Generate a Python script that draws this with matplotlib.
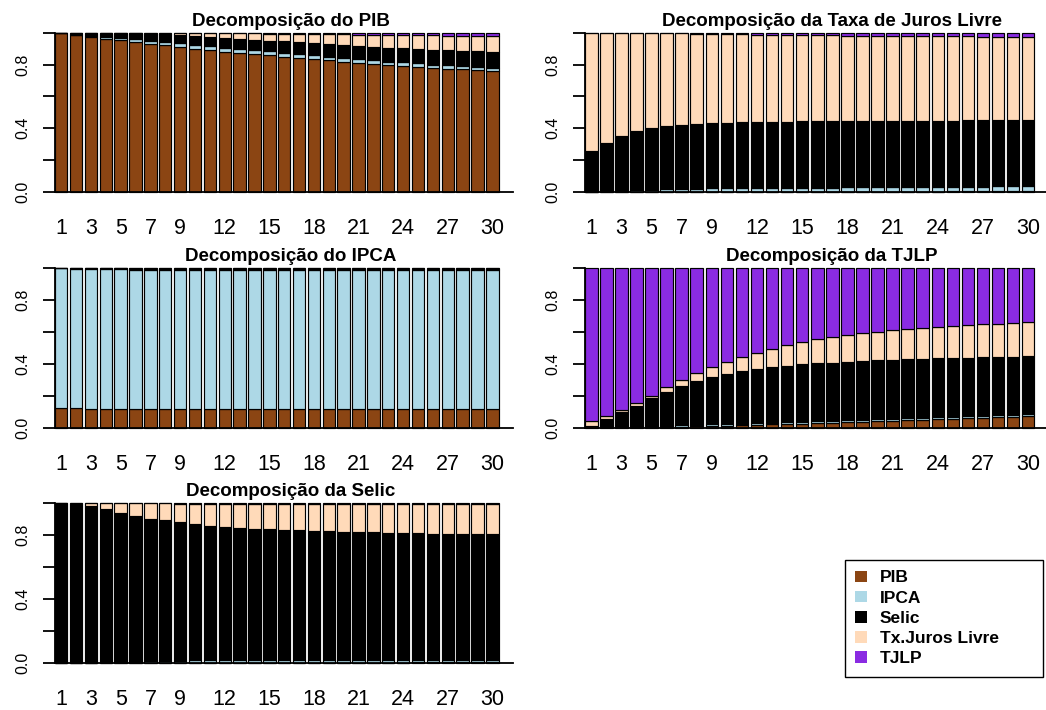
import numpy as np
import matplotlib.pyplot as plt
from matplotlib.patches import Patch

plt.rcParams['font.family'] = ['Liberation Sans', 'DejaVu Sans']

horizons = list(range(1, 31))
shown_ticks = [1, 3, 5, 7, 9, 12, 15, 18, 21, 24, 27, 30]
shocks = ['PIB', 'IPCA', 'Selic', 'Tx.Juros Livre', 'TJLP']
shock_colors = ['#8B4513', '#ADD8E6', '#000000', '#FFDAB9', '#8A2BE2']

# variance decomposition of PIB (share of each shock, horizons 1..30)
pib_pib = [1.000, 0.985, 0.975, 0.962, 0.952, 0.942, 0.932, 0.921, 0.910, 0.900,
           0.890, 0.881, 0.874, 0.866, 0.858, 0.850, 0.842, 0.834, 0.826, 0.818,
           0.811, 0.804, 0.797, 0.791, 0.785, 0.779, 0.774, 0.769, 0.764, 0.760]
pib_ipca = [0.000, 0.002, 0.005, 0.009, 0.012, 0.016, 0.019, 0.021, 0.023, 0.024,
            0.025, 0.025, 0.025, 0.025, 0.025, 0.024, 0.024, 0.024, 0.023, 0.023,
            0.023, 0.023, 0.022, 0.022, 0.022, 0.021, 0.021, 0.021, 0.021, 0.021]
pib_selic = [0.000, 0.013, 0.020, 0.028, 0.034, 0.039, 0.043, 0.047, 0.050, 0.053,
             0.056, 0.059, 0.062, 0.065, 0.068, 0.071, 0.073, 0.076, 0.079, 0.082,
             0.084, 0.086, 0.088, 0.090, 0.092, 0.093, 0.095, 0.096, 0.097, 0.098]
pib_juros = [0.000, 0.000, 0.000, 0.001, 0.002, 0.002, 0.005, 0.009, 0.015, 0.020,
             0.026, 0.031, 0.034, 0.039, 0.043, 0.048, 0.053, 0.057, 0.062, 0.066,
             0.070, 0.074, 0.079, 0.082, 0.085, 0.090, 0.092, 0.095, 0.098, 0.100]
pib_tjlp = [0.000, 0.000, 0.000, 0.000, 0.000, 0.001, 0.001, 0.002, 0.002, 0.003,
            0.003, 0.004, 0.005, 0.005, 0.006, 0.007, 0.008, 0.009, 0.010, 0.011,
            0.012, 0.013, 0.014, 0.015, 0.016, 0.017, 0.018, 0.019, 0.020, 0.021]

# variance decomposition of the free interest rate
jur_pib = [0.000, 0.003, 0.002, 0.001, 0.001, 0.001, 0.001, 0.001, 0.001, 0.001,
           0.001, 0.001, 0.001, 0.001, 0.001, 0.002, 0.002, 0.002, 0.002, 0.002,
           0.003, 0.003, 0.003, 0.003, 0.004, 0.004, 0.004, 0.005, 0.005, 0.005]
jur_ipca = [0.000, 0.002, 0.006, 0.010, 0.013, 0.016, 0.018, 0.020, 0.021, 0.022,
            0.023, 0.024, 0.024, 0.025, 0.025, 0.026, 0.026, 0.027, 0.027, 0.027,
            0.028, 0.028, 0.028, 0.029, 0.029, 0.029, 0.030, 0.030, 0.030, 0.031]
jur_selic = [0.255, 0.305, 0.342, 0.369, 0.386, 0.396, 0.403, 0.407, 0.411, 0.413,
             0.414, 0.415, 0.416, 0.416, 0.417, 0.416, 0.416, 0.416, 0.416, 0.417,
             0.415, 0.416, 0.416, 0.416, 0.415, 0.416, 0.415, 0.415, 0.415, 0.415]
jur_juros = [0.745, 0.689, 0.648, 0.618, 0.597, 0.583, 0.573, 0.566, 0.560, 0.555,
             0.552, 0.548, 0.546, 0.544, 0.542, 0.540, 0.539, 0.537, 0.536, 0.534,
             0.534, 0.532, 0.531, 0.530, 0.529, 0.528, 0.527, 0.526, 0.525, 0.524]
jur_tjlp = [0.000, 0.001, 0.002, 0.002, 0.003, 0.004, 0.005, 0.006, 0.007, 0.009,
            0.010, 0.012, 0.013, 0.014, 0.015, 0.016, 0.017, 0.018, 0.019, 0.020,
            0.020, 0.021, 0.022, 0.022, 0.023, 0.023, 0.024, 0.024, 0.025, 0.025]

# variance decomposition of IPCA
ipca_pib = [0.122, 0.121, 0.119, 0.118, 0.117, 0.117, 0.116, 0.116, 0.116, 0.116,
            0.116, 0.116, 0.116, 0.116, 0.116, 0.116, 0.116, 0.117, 0.117, 0.117,
            0.117, 0.117, 0.117, 0.117, 0.117, 0.117, 0.117, 0.117, 0.117, 0.117]
ipca_ipca = [0.878, 0.877, 0.876, 0.876, 0.876, 0.874, 0.874, 0.873, 0.873, 0.873,
             0.873, 0.873, 0.873, 0.873, 0.873, 0.873, 0.873, 0.872, 0.872, 0.872,
             0.872, 0.872, 0.872, 0.872, 0.872, 0.872, 0.872, 0.872, 0.872, 0.872]
ipca_selic = [0.000, 0.002, 0.004, 0.005, 0.006, 0.007, 0.007, 0.008, 0.008, 0.008,
              0.008, 0.008, 0.008, 0.008, 0.008, 0.008, 0.008, 0.008, 0.008, 0.008,
              0.008, 0.008, 0.008, 0.008, 0.008, 0.008, 0.008, 0.008, 0.008, 0.008]
ipca_juros = [0.000, 0.000, 0.001, 0.001, 0.001, 0.001, 0.002, 0.002, 0.002, 0.002,
              0.002, 0.002, 0.002, 0.002, 0.002, 0.002, 0.002, 0.002, 0.002, 0.002,
              0.002, 0.002, 0.002, 0.002, 0.002, 0.002, 0.002, 0.002, 0.002, 0.002]
ipca_tjlp = [0.000, 0.000, 0.000, 0.000, 0.000, 0.001, 0.001, 0.001, 0.001, 0.001,
             0.001, 0.001, 0.001, 0.001, 0.001, 0.001, 0.001, 0.001, 0.001, 0.001,
             0.001, 0.001, 0.001, 0.001, 0.001, 0.001, 0.001, 0.001, 0.001, 0.001]

# variance decomposition of TJLP
tjlp_pib = [0.008, 0.004, 0.002, 0.002, 0.003, 0.004, 0.006, 0.008, 0.010, 0.012,
            0.014, 0.017, 0.019, 0.022, 0.025, 0.028, 0.031, 0.034, 0.037, 0.040,
            0.043, 0.046, 0.049, 0.052, 0.055, 0.058, 0.061, 0.064, 0.067, 0.070]
tjlp_ipca = [0.001, 0.002, 0.003, 0.004, 0.005, 0.006, 0.007, 0.008, 0.009, 0.010,
             0.010, 0.011, 0.011, 0.011, 0.012, 0.012, 0.012, 0.012, 0.012, 0.012,
             0.012, 0.012, 0.012, 0.012, 0.012, 0.012, 0.012, 0.012, 0.012, 0.012]
tjlp_selic = [0.003, 0.048, 0.091, 0.132, 0.176, 0.216, 0.247, 0.273, 0.297, 0.315,
              0.330, 0.340, 0.353, 0.356, 0.360, 0.364, 0.365, 0.368, 0.369, 0.371,
              0.370, 0.371, 0.370, 0.371, 0.370, 0.369, 0.368, 0.365, 0.365, 0.364]
tjlp_juros = [0.026, 0.021, 0.014, 0.015, 0.016, 0.027, 0.040, 0.052, 0.067, 0.073,
              0.087, 0.103, 0.113, 0.130, 0.143, 0.150, 0.159, 0.165, 0.174, 0.180,
              0.188, 0.192, 0.197, 0.199, 0.201, 0.203, 0.208, 0.212, 0.213, 0.217]
tjlp_tjlp = [0.962, 0.925, 0.890, 0.847, 0.800, 0.747, 0.700, 0.659, 0.617, 0.590,
             0.559, 0.529, 0.504, 0.481, 0.460, 0.446, 0.433, 0.421, 0.408, 0.397,
             0.387, 0.379, 0.372, 0.366, 0.362, 0.358, 0.351, 0.347, 0.343, 0.337]

# variance decomposition of Selic
sel_pib = [0.000, 0.000, 0.001, 0.001, 0.001, 0.001, 0.001, 0.001, 0.001, 0.002,
           0.002, 0.002, 0.002, 0.002, 0.002, 0.002, 0.002, 0.003, 0.003, 0.003,
           0.003, 0.003, 0.003, 0.003, 0.004, 0.004, 0.004, 0.004, 0.004, 0.004]
sel_ipca = [0.000, 0.001, 0.002, 0.004, 0.006, 0.008, 0.010, 0.012, 0.013, 0.014,
            0.015, 0.015, 0.016, 0.016, 0.016, 0.016, 0.017, 0.017, 0.017, 0.017,
            0.017, 0.017, 0.017, 0.017, 0.017, 0.017, 0.017, 0.017, 0.017, 0.017]
sel_selic = [1.000, 0.997, 0.982, 0.957, 0.933, 0.911, 0.893, 0.880, 0.866, 0.854,
             0.843, 0.833, 0.827, 0.821, 0.819, 0.817, 0.814, 0.809, 0.807, 0.803,
             0.800, 0.798, 0.796, 0.794, 0.791, 0.789, 0.789, 0.787, 0.787, 0.786]
sel_juros = [0.000, 0.002, 0.015, 0.037, 0.059, 0.079, 0.095, 0.106, 0.118, 0.128,
             0.138, 0.148, 0.153, 0.159, 0.161, 0.162, 0.164, 0.168, 0.170, 0.174,
             0.177, 0.179, 0.181, 0.183, 0.184, 0.186, 0.186, 0.188, 0.188, 0.189]
sel_tjlp = [0.000, 0.000, 0.000, 0.001, 0.001, 0.001, 0.001, 0.001, 0.002, 0.002,
            0.002, 0.002, 0.002, 0.002, 0.002, 0.003, 0.003, 0.003, 0.003, 0.003,
            0.003, 0.003, 0.003, 0.003, 0.004, 0.004, 0.004, 0.004, 0.004, 0.004]

panels = [
    ('Decomposição do PIB', [pib_pib, pib_ipca, pib_selic, pib_juros, pib_tjlp], 0, 0),
    ('Decomposição da Taxa de Juros Livre', [jur_pib, jur_ipca, jur_selic, jur_juros, jur_tjlp], 0, 1),
    ('Decomposição do IPCA', [ipca_pib, ipca_ipca, ipca_selic, ipca_juros, ipca_tjlp], 1, 0),
    ('Decomposição da TJLP', [tjlp_pib, tjlp_ipca, tjlp_selic, tjlp_juros, tjlp_tjlp], 1, 1),
    ('Decomposição da Selic', [sel_pib, sel_ipca, sel_selic, sel_juros, sel_tjlp], 2, 0),
]

W, H = 1046, 710
fig = plt.figure(figsize=(W / 100, H / 100), dpi=100)

# pixel layout: (axis x, last bar right edge, baseline end, title centre)
cols = [(55, 501, 513, 291), (585, 1037, 1046, 832)]
# (y of 1.0, y of 0.0)
rows = [(32.7, 192.0), (268.3, 427.5), (503.3, 663.0)]

centers = 0.7 + 1.2 * np.arange(len(horizons))

for title, series, r, c in panels:
    x0, xbar, xend, tcx = cols[c]
    ytop, ybot = rows[r]
    scale = (xbar - x0) / 36.0
    ax = fig.add_axes([x0 / W, 1 - ybot / H, (xend - x0) / W, (ybot - ytop) / H])
    bottom = np.zeros(len(horizons))
    for vals, col in zip(series, shock_colors):
        ax.bar(centers, vals, width=1.0, bottom=bottom, color=col,
               edgecolor='black', linewidth=0.85, clip_on=False)
        bottom = bottom + np.array(vals)
    ax.set_xlim(0.2, 0.2 + (xend - x0) / scale)
    ax.set_ylim(0, 1)
    for s in ['top', 'right']:
        ax.spines[s].set_visible(False)
    ax.spines['left'].set_bounds(0, 1)
    ax.spines['left'].set_linewidth(1.3)
    ax.spines['bottom'].set_linewidth(1.3)
    ax.set_yticks([0, 0.2, 0.4, 0.6, 0.8, 1.0])
    ax.set_yticklabels(['0.0', '', '0.4', '', '0.8', ''], rotation=90, va='center')
    ax.tick_params(axis='y', length=8.6, width=1.3, labelsize=11.5, pad=9)
    ax.set_xticks([centers[h - 1] for h in shown_ticks])
    ax.set_xticklabels([str(h) for h in shown_ticks])
    ax.tick_params(axis='x', length=0, labelsize=15.5, pad=19)
    fig.text(tcx / W, 1 - (ytop - 7) / H, title, ha='center', va='baseline',
             fontsize=13.5, fontweight='bold')

handles = [Patch(facecolor=col, edgecolor='none', label=name)
           for name, col in zip(shocks, shock_colors)]
leg = fig.legend(handles=handles, loc='upper left', mode='expand',
                 bbox_to_anchor=(845 / W, 1 - 673 / H, 198 / W, 113 / H),
                 borderaxespad=0, frameon=True, fancybox=False,
                 edgecolor='black', framealpha=1,
                 handlelength=0.65, handleheight=0.65, handletextpad=0.75,
                 labelspacing=0.3, borderpad=0.6,
                 prop={'weight': 'bold', 'size': 12.5})
leg.get_frame().set_linewidth(1.0)

fig.savefig('out.png', dpi=100)
